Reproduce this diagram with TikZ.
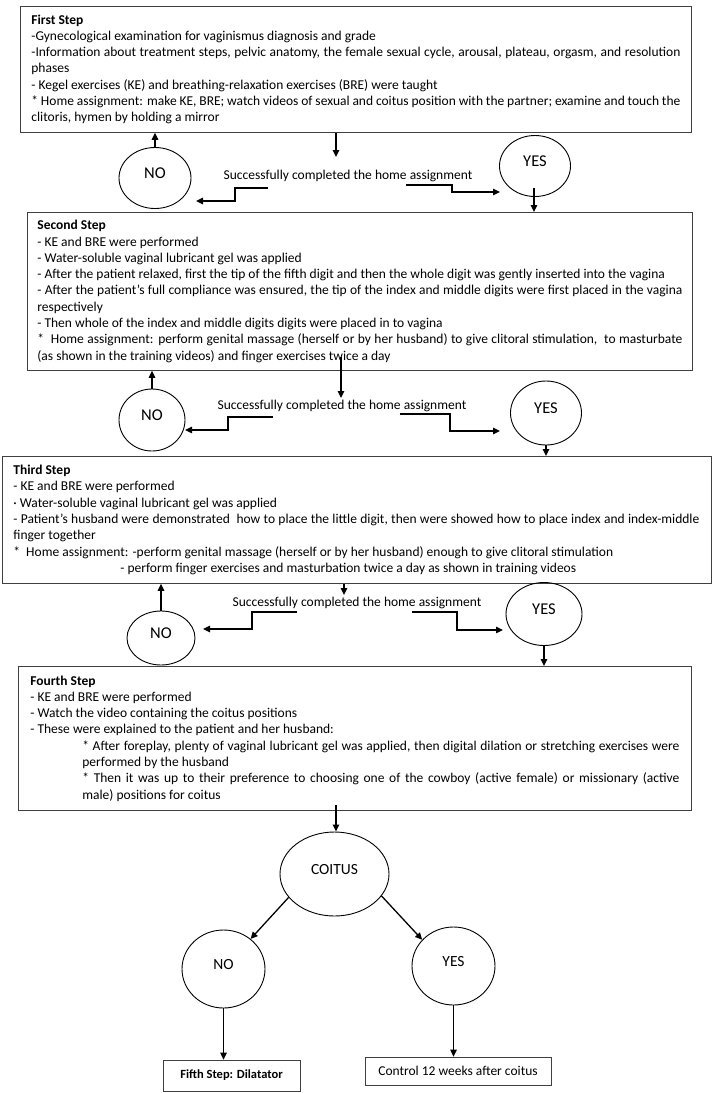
\documentclass[tikz,border=0pt]{standalone}
\usepackage{fontspec}
\setmainfont{Carlito}
\usetikzlibrary{positioning}
\usetikzlibrary{shapes.geometric}
\usetikzlibrary{arrows.meta}

\begin{document}
\begin{tikzpicture}[x=1pt,y=-1pt,
 stepbox/.style={draw=black!75,line width=0.8pt,anchor=north west,align=justify,font=\fontsize{13.5}{16.3}\selectfont},
 answer/.style={draw,ellipse,line width=0.9pt,inner sep=0pt,text height=9pt,text depth=9pt,font=\fontsize{16.5}{18}\selectfont},
 arr/.style={line width=1.3pt,-{Triangle[length=7pt,width=6.5pt]}},
 note/.style={font=\fontsize{13.5}{15}\selectfont},
 endbox/.style={draw=black!75,line width=0.8pt,inner sep=0pt,font=\fontsize{13.5}{15}\selectfont}]
 \useasboundingbox[fill=white] (0,0) rectangle (714,1093);

 % steps
 \node[stepbox,text width=649pt,inner xsep=11pt,minimum height=126pt] (step1) at (20,6) {%
 \textbf{First Step}\par
 -Gynecological examination for vaginismus diagnosis and grade\par
 -Information about treatment steps, pelvic anatomy, the female sexual cycle, arousal, plateau, orgasm, and resolution phases\par
 - Kegel exercises (KE) and breathing-relaxation exercises (BRE) were taught\par
 * Home assignment: make KE, BRE; watch videos of sexual and coitus position with the partner; examine and touch the clitoris, hymen by holding a mirror};
 \node[stepbox,text width=645pt,inner xsep=10pt,minimum height=158pt] (step2) at (27,212) {%
 \textbf{Second Step}\par
 - KE and BRE were performed\par
 - Water-soluble vaginal lubricant gel was applied\par
 - After the patient relaxed, first the tip of the fifth digit and then the whole digit was gently inserted into the vagina\par
 - After the patient’s full compliance was ensured, the tip of the index and middle digits were first placed in the vagina respectively\par
 - Then whole of the index and middle digits digits were placed in to vagina\par
 * \ Home assignment: perform genital massage (herself or by her husband) to give clitoral stimulation, \ to masturbate (as shown in the training videos) and finger exercises twice a day};
 \node[stepbox,text width=686pt,inner xsep=11.5pt,minimum height=127pt] (step3) at (1.5,456) {%
 \textbf{Third Step}\par
 - KE and BRE were performed\par
 · Water-soluble vaginal lubricant gel was applied\par
 - Patient's husband were demonstrated \ how to place the little digit, then were showed how to place index and index-middle finger together\par
 * \ Home assignment: -perform genital massage (herself or by her husband) enough to give clitoral stimulation\par
 \hspace*{107pt}- perform finger exercises and masturbation twice a day as shown in training videos};
 \node[stepbox,text width=649pt,inner xsep=12pt,minimum height=144pt] (step4) at (18,666) {%
 \textbf{Fourth Step}\par
 - KE and BRE were performed\par
 - Watch the video containing the coitus positions\par
 - These were explained to the patient and her husband:\par
 {\leftskip=52pt * After foreplay, plenty of vaginal lubricant gel was applied, then digital dilation or stretching exercises were performed by the husband\par
 * Then it was up to their preference to choosing one of the cowboy (active female) or missionary (active\linebreak male) positions for coitus\par}};

 % answers
 \node[answer,minimum width=72pt,minimum height=61pt] (no1) at (155,178) {NO};
 \node[answer,minimum width=71pt,minimum height=61pt] (yes1) at (535,166) {YES};
 \node[answer,minimum width=66pt,minimum height=62pt] (no2) at (152,420) {NO};
 \node[answer,minimum width=71pt,minimum height=64pt] (yes2) at (546,413) {YES};
 \node[answer,minimum width=68pt,minimum height=54pt] (no3) at (161,638) {NO};
 \node[answer,minimum width=76pt,minimum height=63pt] (yes3) at (544,614) {YES};
 \node[answer,font=\fontsize{15.5}{17}\selectfont,minimum width=109pt,minimum height=84pt] (coitus) at (334.5,874) {COITUS};
 \node[answer,font=\fontsize{15.5}{17}\selectfont,minimum width=83pt,minimum height=78pt] (no4) at (223.5,969) {NO};
 \node[answer,font=\fontsize{15.5}{17}\selectfont,minimum width=83pt,minimum height=78pt] (yes4) at (453.5,966) {YES};

 \node[note] (succ1) at (348,176) {Successfully completed the home assignment};
 \node[note] (succ2) at (342,406) {Successfully completed the home assignment};
 \node[note] (succ3) at (357,603) {Successfully completed the home assignment};

 \node[endbox,font=\fontsize{12.5}{15}\selectfont,minimum width=137pt,minimum height=31pt] (fifth) at (231.5,1075.5) {\textbf{Fifth Step: Dilatator}};
 \node[endbox,minimum width=186pt,minimum height=28pt] (control) at (458,1071) {Control 12 weeks after coitus};

 % free ends
 \coordinate (d1) at (336,157);
 \coordinate (d2s) at (341,357);
 \coordinate (d2) at (341,398);
 \coordinate (d3) at (344,595);
 \coordinate (d4) at (336,805);
 \coordinate (y1) at (534,188);
 \coordinate (l1s) at (268,188); \coordinate (l1e) at (196,201);
 \coordinate (r1s) at (406,185); \coordinate (r1e) at (500,192);
 \coordinate (l2s) at (273,417); \coordinate (l2e) at (185,430);
 \coordinate (r2s) at (400,414); \coordinate (r2e) at (500,431);
 \coordinate (l3s) at (297,612); \coordinate (l3e) at (203,629);
 \coordinate (r3s) at (412,612); \coordinate (r3e) at (503,630);

 % first row
 \draw[arr] (d1 |- step1.south) -- (d1);
 \draw[arr] (no1.north) -- (no1.north |- step1.south);
 \draw[arr] (l1s) -- ++(-33,0) |- (l1e);
 \draw[arr] (r1s) -- ++(46,0) |- (r1e);
 \draw[arr] (y1) -- (y1 |- step2.north);
 % second row
 \draw[arr] (d2s) -- (d2);
 \draw[arr] (no2.north) -- (no2.north |- step2.south);
 \draw[arr] (l2s) -- ++(-45,0) |- (l2e);
 \draw[arr] (r2s) -- ++(50,0) |- (r2e);
 \draw[arr] (yes2.south) -- (yes2.south |- step3.north);
 % third row
 \draw[arr] (d3 |- step3.south) -- (d3);
 \draw[arr] (no3.north) -- (no3.north |- step3.south);
 \draw[arr] (l3s) -- ++(-45,0) |- (l3e);
 \draw[arr] (r3s) -- ++(45,0) |- (r3e);
 \draw[arr] (yes3.south) -- (yes3.south |- step4.north);
 % coitus
 \draw[arr] (d4) -- (d4 |- coitus.north);
 \draw[arr] (coitus.207) -- (no4.48);
 \draw[arr] (coitus.335) -- (yes4.140);
 \draw[arr] (no4.south) -- (no4.south |- fifth.north);
 \draw[arr] (yes4.south) -- (yes4.south |- control.north);
\end{tikzpicture}
\end{document}
